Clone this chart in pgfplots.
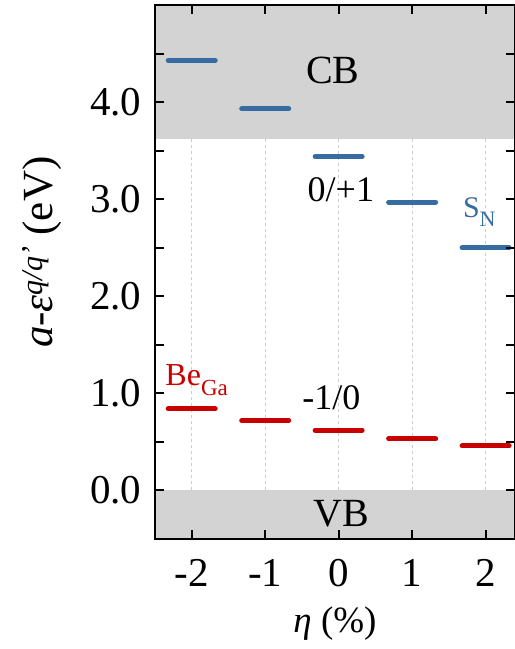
\documentclass[border=0pt]{standalone}
\usepackage{fontspec}
\setmainfont{Liberation Serif}
\usepackage{pgfplots}
\pgfplotsset{compat=1.18}
\definecolor{sblue}{RGB}{55,108,163}
\definecolor{dred}{RGB}{200,0,0}
\definecolor{bandgray}{RGB}{211,211,211}
\definecolor{gridgray}{RGB}{205,205,205}
\begin{document}
\begin{tikzpicture}
\begin{axis}[name=ax, scale only axis, width=360pt, height=534pt,
  xmin=-2.5, xmax=2.4, ymin=-0.5, ymax=5.0,
  xtick={-2,-1,0,1,2}, xticklabels={-2,-1,0,1,2},
  ytick={0,1,2,3,4}, yticklabels={0.0,1.0,2.0,3.0,4.0},
  minor ytick={-0.5,0.5,1.5,2.5,3.5,4.5},
  tick align=inside, major tick length=9pt, minor tick length=9pt,
  every tick/.style={black, line width=2pt},
  axis line style={line width=2.5pt},
  ticklabel style={font=\fontsize{41}{47}\selectfont},
  xticklabel style={yshift=-17pt},
  yticklabel style={xshift=-10pt},
  xlabel={\textit{η} (\%)},
  ylabel={\textit{a}-\textit{ε}\textsuperscript{\textit{q/q'}} (eV)},
  xlabel style={font=\fontsize{37}{43}\selectfont, at={(axis description cs:0.5,0)}, anchor=base, yshift=-93pt},
  ylabel style={font=\fontsize{43}{49}\selectfont, at={(axis description cs:-0.286,0.537)}, anchor=base},
  axis on top, clip=false,
]
% band regions
\addplot[draw=none, fill=bandgray] coordinates {(-2.5,3.62) (2.4,3.62) (2.4,5.0) (-2.5,5.0)} -- cycle;
\addplot[draw=none, fill=bandgray] coordinates {(-2.5,-0.5) (2.4,-0.5) (2.4,0.0) (-2.5,0.0)} -- cycle;
% dashed guide lines
\addplot[gridgray, dashed, line width=0.8pt] coordinates {(-2,0) (-2,3.62)};
\addplot[gridgray, dashed, line width=0.8pt] coordinates {(-1,0) (-1,3.62)};
\addplot[gridgray, dashed, line width=0.8pt] coordinates {(0,0) (0,3.62)};
\addplot[gridgray, dashed, line width=0.8pt] coordinates {(1,0) (1,3.62)};
\addplot[gridgray, dashed, line width=0.8pt] coordinates {(2,0) (2,3.62)};
% S_N (0/+1) levels
\addplot[sblue, line width=5pt, line cap=round] coordinates {(-2.32,4.43) (-1.68,4.43)};
\addplot[sblue, line width=5pt, line cap=round] coordinates {(-1.32,3.93) (-0.68,3.93)};
\addplot[sblue, line width=5pt, line cap=round] coordinates {(-0.32,3.44) (0.32,3.44)};
\addplot[sblue, line width=5pt, line cap=round] coordinates {(0.68,2.97) (1.32,2.97)};
\addplot[sblue, line width=5pt, line cap=round] coordinates {(1.68,2.50) (2.32,2.50)};
% Be_Ga (-1/0) levels
\addplot[dred, line width=5pt, line cap=round] coordinates {(-2.32,0.84) (-1.68,0.84)};
\addplot[dred, line width=5pt, line cap=round] coordinates {(-1.32,0.72) (-0.68,0.72)};
\addplot[dred, line width=5pt, line cap=round] coordinates {(-0.32,0.62) (0.32,0.62)};
\addplot[dred, line width=5pt, line cap=round] coordinates {(0.68,0.53) (1.32,0.53)};
\addplot[dred, line width=5pt, line cap=round] coordinates {(1.68,0.46) (2.32,0.46)};
% annotations
\node[anchor=base, font=\fontsize{40}{46}\selectfont] at (axis cs:-0.08,4.19) {CB};
\node[anchor=base, font=\fontsize{40}{46}\selectfont] at (axis cs:0.04,-0.37) {VB};
\node[anchor=base, font=\fontsize{36}{42}\selectfont] at (axis cs:0.03,2.98) {0/+1};
\node[anchor=base, font=\fontsize{36}{42}\selectfont] at (axis cs:-0.10,0.83) {-1/0};
\node[anchor=base west, inner sep=0pt, text=dred, font=\fontsize{32}{38}\selectfont] at (axis cs:-2.36,1.085) {Be\raisebox{-10pt}{\fontsize{23}{27}\selectfont Ga}};
\node[anchor=base west, inner sep=0pt, text=sblue, font=\fontsize{30}{36}\selectfont] at (axis cs:1.69,2.81) {S\raisebox{-9pt}{\fontsize{22}{26}\selectfont N}};
\end{axis}
\pgfresetboundingbox
\path[use as bounding box] ([xshift=-155pt,yshift=-110pt]ax.south west) rectangle ([yshift=5pt]ax.north east);
\end{tikzpicture}
\end{document}
